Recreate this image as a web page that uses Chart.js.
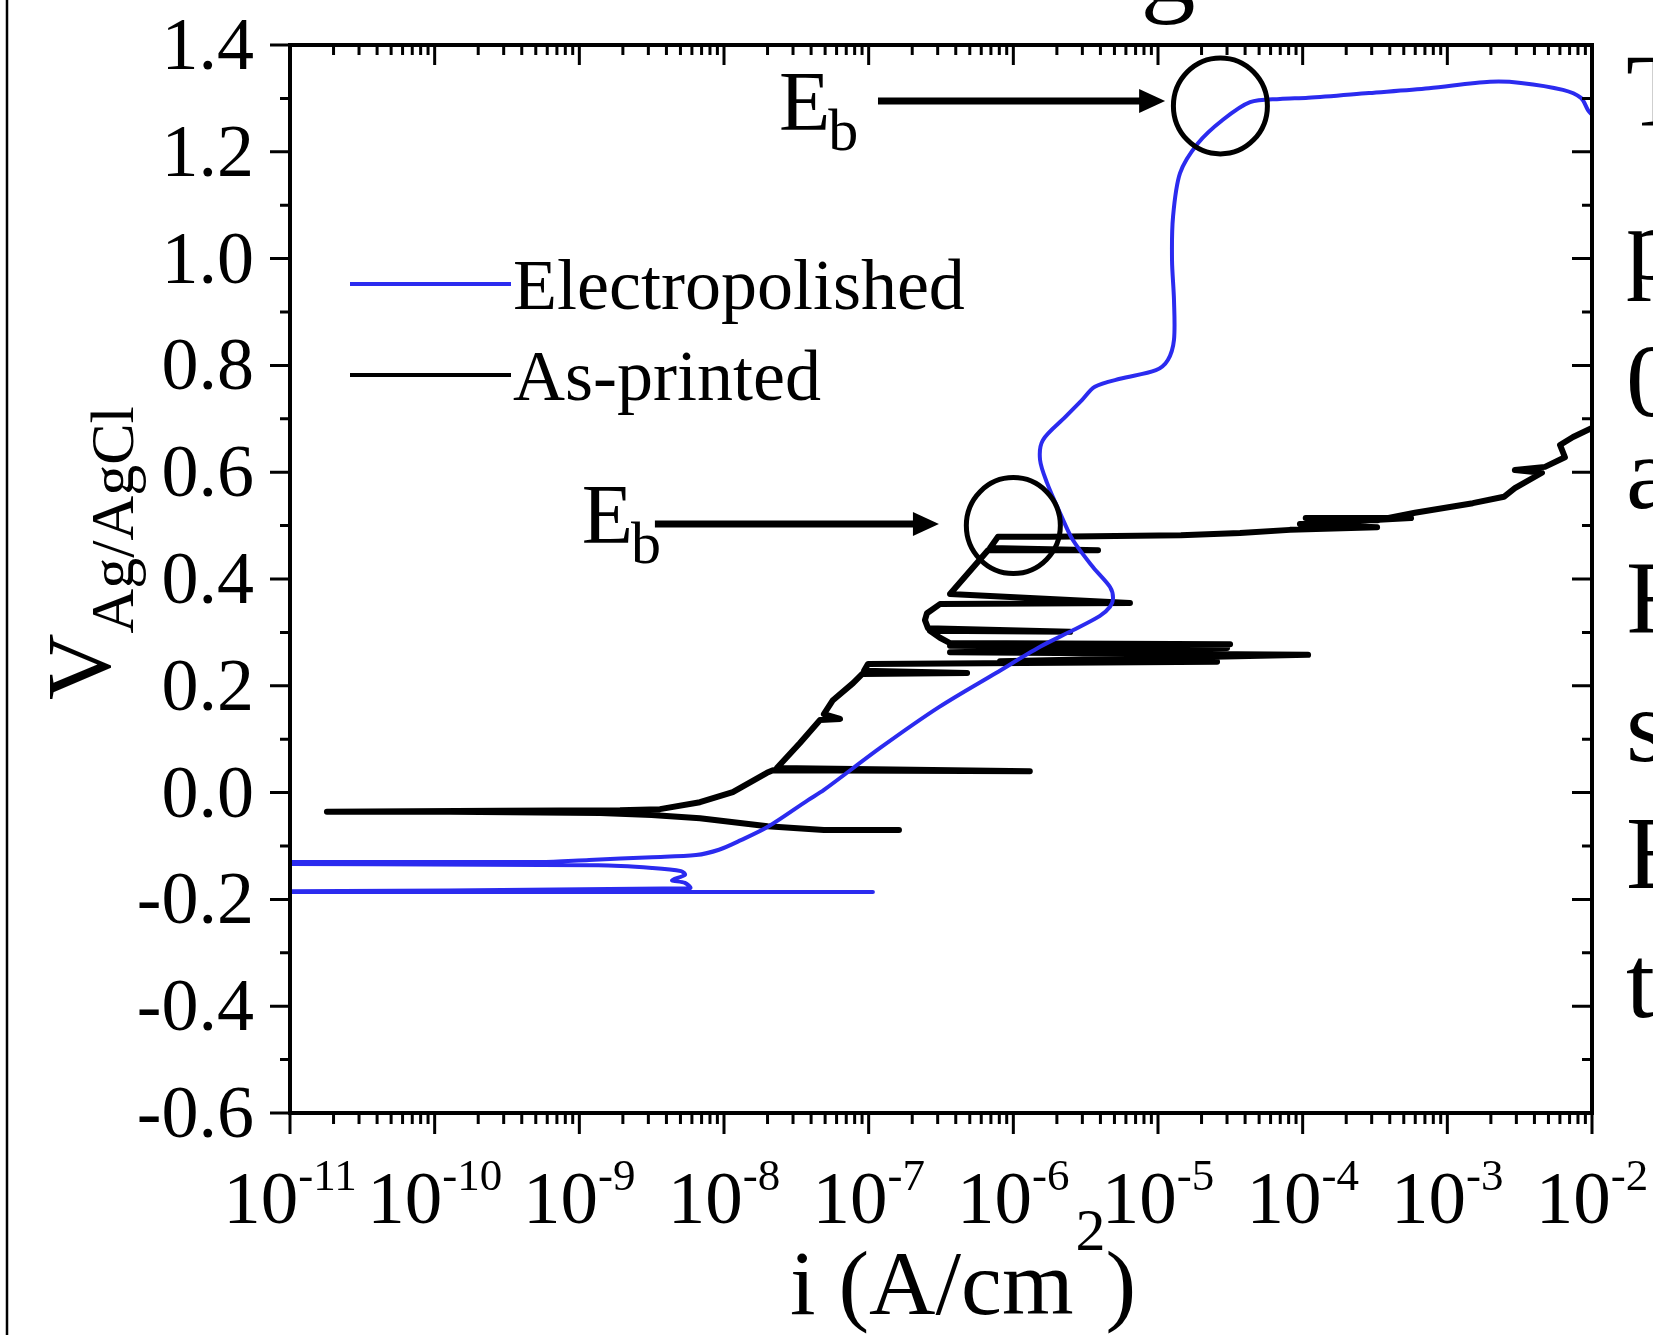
<!DOCTYPE html>
<html>
<head>
<meta charset="utf-8">
<script src="https://cdn.jsdelivr.net/npm/chart.js@4.4.0/dist/chart.umd.min.js"></script>
<style>
  html, body { margin: 0; padding: 0; background: #fff; }
  #wrap { width: 1653px; height: 1335px; }
</style>
</head>
<body>
<div id="wrap"><canvas id="myChart" width="1653" height="1335"></canvas></div>
<script>
/* 분극 곡선 데이터 (i: A/cm2, V vs Ag/AgCl) */
const seriesNames = ['Electropolished', 'As-printed'];

// Electropolished
const epCurrent = [
    1.07e-7, 1e-12, 5.82e-9, 5.37e-9, 4.37e-9, 5.37e-9, 5.05e-9, 3.18e-9, 1.35e-9, 1e-12,
    1e-12, 5.35e-10, 1.17e-9, 3.18e-9, 6.40e-9, 9.23e-9, 1.31e-8, 2.01e-8, 3.81e-8, 4.91e-8,
    1.22e-7, 3.06e-7, 7.59e-7, 1.53e-6, 2.58e-6, 3.97e-6, 4.66e-6, 4.89e-6, 4.66e-6, 3.56e-6,
    2.58e-6, 2.10e-6, 1.71e-6, 1.53e-6, 1.60e-6, 2.28e-6, 2.98e-6, 3.66e-6, 5.46e-6, 9.68e-6,
    1.17e-5, 1.29e-5, 1.29e-5, 1.25e-5, 1.27e-5, 1.42e-5, 1.89e-5, 2.81e-5, 4.33e-5, 6.97e-5,
    1.09e-4, 2.87e-4, 7.46e-4, 1.97e-3, 3.23e-3, 6.30e-3, 8.39e-3, 9.38e-3, 1.0e-2
];
const epPotential = [
    -0.186, -0.186, -0.179, -0.169, -0.164, -0.154, -0.147, -0.141, -0.136, -0.133,
    -0.130, -0.130, -0.126, -0.121, -0.117, -0.107, -0.089, -0.064, -0.014, 0.005,
    0.085, 0.160, 0.224, 0.273, 0.304, 0.331, 0.348, 0.364, 0.385, 0.422,
    0.473, 0.524, 0.580, 0.623, 0.660, 0.703, 0.735, 0.760, 0.775, 0.791,
    0.810, 0.848, 0.922, 0.997, 1.078, 1.160, 1.216, 1.260, 1.293, 1.299,
    1.301, 1.310, 1.319, 1.331, 1.329, 1.316, 1.301, 1.278, 1.269
];

// As-printed
const apCurrent = [
    1.62e-7, 4.90e-8, 2.00e-8, 6.82e-9, 3.16e-9, 1.39e-9, 1.28e-10, 1.80e-11, 2.83e-10, 1.91e-9,
    3.61e-9, 6.82e-9, 1.15e-8, 1.98e-8, 2.18e-8, 1.30e-6, 2.32e-8, 3.35e-8, 4.61e-8, 6.34e-8,
    4.90e-8, 5.66e-8, 7.80e-8, 9.00e-8, 4.79e-7, 9.29e-8, 9.89e-8, 2.56e-5, 8.09e-7, 1.09e-4,
    3.65e-7, 3.00e-5, 3.65e-7, 3.15e-5, 3.65e-7, 3.11e-7, 2.65e-7, 2.47e-6, 2.57e-7, 2.45e-7,
    2.53e-7, 3.11e-7, 6.40e-6, 3.65e-7, 6.68e-7, 3.85e-6, 6.90e-7, 7.83e-7, 1.79e-6, 1.44e-5,
    3.69e-5, 8.17e-5, 3.27e-4, 9.57e-5, 5.61e-4, 1.05e-4, 3.27e-4, 5.97e-4, 1.50e-3, 2.46e-3,
    2.93e-3, 4.51e-3, 2.93e-3, 4.73e-3, 6.50e-3, 6.01e-3, 7.40e-3, 1.0e-2
];
const apPotential = [
    -0.070, -0.070, -0.063, -0.048, -0.042, -0.038, -0.036, -0.036, -0.034, -0.033,
    -0.031, -0.018, 0.001, 0.037, 0.042, 0.040, 0.046, 0.093, 0.136, 0.138,
    0.147, 0.173, 0.205, 0.222, 0.224, 0.228, 0.241, 0.245, 0.246, 0.258,
    0.263, 0.271, 0.275, 0.278, 0.280, 0.290, 0.303, 0.301, 0.308, 0.323,
    0.336, 0.353, 0.355, 0.372, 0.454, 0.454, 0.458, 0.479, 0.479, 0.482,
    0.486, 0.492, 0.497, 0.503, 0.514, 0.514, 0.510, 0.524, 0.542, 0.554,
    0.570, 0.599, 0.604, 0.610, 0.628, 0.651, 0.666, 0.683
];

// 축 눈금
const yTicks = [-0.6, -0.4, -0.2, 0.0, 0.2, 0.4, 0.6, 0.8, 1.0, 1.2, 1.4];
const xTickExp = [-11, -10, -9, -8, -7, -6, -5, -4, -3, -2];

// E_b 표시 (원 위치, 화살표 시작/끝, 라벨 위치)
const ebCircle = [[1.0e-6, 0.50], [2.7e-5, 1.286]];
const ebArrow = [[3.33e-9, 3.06e-7, 0.503], [1.16e-7, 1.12e-5, 1.295]];
const ebText = [[1.04e-9, 0.467], [2.40e-8, 1.241]];

const blue = '#2b2bef';
const serif = '"Liberation Serif", "Times New Roman", serif';

function toPoints(xs, ys) {
    let pts = [];
    for (let i = 0; i < xs.length; i++) {
        pts.push({ x: xs[i], y: ys[i] });
    }
    return pts;
}

function font(ctx, size) {
    ctx.font = size + 'px ' + serif;
}

const framePlugin = {
    id: 'frame',
    afterDatasetsDraw(chart) {
        const ctx = chart.ctx;
        const a = chart.chartArea;
        const xs = chart.scales.x;
        const ys = chart.scales.y;
        ctx.save();
        ctx.strokeStyle = '#000';
        ctx.fillStyle = '#000';

        // 눈금
        ctx.lineWidth = 3;
        ctx.beginPath();
        for (let k = 0; k < xTickExp.length; k++) {
            const e = xTickExp[k];
            const px = xs.getPixelForValue(Math.pow(10, e));
            ctx.moveTo(px, a.bottom); ctx.lineTo(px, a.bottom + 21);
            ctx.moveTo(px, a.top); ctx.lineTo(px, a.top + 20);
            if (k < xTickExp.length - 1) {
                for (let m = 2; m <= 9; m++) {
                    const pm = xs.getPixelForValue(m * Math.pow(10, e));
                    ctx.moveTo(pm, a.bottom); ctx.lineTo(pm, a.bottom + 11);
                    ctx.moveTo(pm, a.top); ctx.lineTo(pm, a.top + 10);
                }
            }
        }
        for (let k = 0; k < yTicks.length; k++) {
            const py = ys.getPixelForValue(yTicks[k]);
            ctx.moveTo(a.left, py); ctx.lineTo(a.left - 20, py);
            ctx.moveTo(a.right, py); ctx.lineTo(a.right - 20, py);
            if (k < yTicks.length - 1) {
                const pm = ys.getPixelForValue((yTicks[k] + yTicks[k + 1]) / 2);
                ctx.moveTo(a.left, pm); ctx.lineTo(a.left - 10, pm);
                ctx.moveTo(a.right, pm); ctx.lineTo(a.right - 10, pm);
            }
        }
        ctx.stroke();

        ctx.lineWidth = 4;
        ctx.strokeRect(a.left, a.top, a.right - a.left, a.bottom - a.top);

        // y 눈금 라벨
        font(ctx, 74);
        ctx.textAlign = 'right';
        ctx.textBaseline = 'alphabetic';
        yTicks.forEach(function (v) {
            ctx.fillText(v.toFixed(1), a.left - 36, ys.getPixelForValue(v) + 24);
        });

        // x 눈금 라벨 10^n
        ctx.textAlign = 'left';
        xTickExp.forEach(function (e) {
            const px = xs.getPixelForValue(Math.pow(10, e));
            font(ctx, 75);
            const w1 = ctx.measureText('10').width;
            font(ctx, 45);
            const w2 = ctx.measureText(String(e)).width;
            const x0 = px - (w1 + w2) / 2;
            font(ctx, 75);
            ctx.fillText('10', x0, a.bottom + 110);
            font(ctx, 45);
            ctx.fillText(String(e), x0 + w1, a.bottom + 77);
        });

        // x 축 제목
        font(ctx, 92);
        const t1 = 'i (A/cm';
        const w1 = ctx.measureText(t1).width;
        const w3 = ctx.measureText(')').width;
        font(ctx, 60);
        const w2 = ctx.measureText('2').width;
        let tx = 962 - (w1 + w2 + w3) / 2;
        font(ctx, 92);
        ctx.fillText(t1, tx, 1314);
        font(ctx, 60);
        ctx.fillText('2', tx + w1 + 2, 1250);
        font(ctx, 92);
        ctx.fillText(')', tx + w1 + w2 + 2, 1314);

        // y 축 제목
        ctx.save();
        ctx.translate(110, 700);
        ctx.rotate(-Math.PI / 2);
        font(ctx, 92);
        ctx.fillText('V', 0, 0);
        const wv = ctx.measureText('V').width;
        font(ctx, 62);
        ctx.fillText('Ag/AgCl', wv, 23);
        ctx.restore();

        // 범례
        const colors = [blue, '#000'];
        const legendY = [284, 375];
        ctx.lineWidth = 4;
        for (let i = 0; i < seriesNames.length; i++) {
            ctx.strokeStyle = colors[i];
            ctx.beginPath();
            ctx.moveTo(350, legendY[i]);
            ctx.lineTo(511, legendY[i]);
            ctx.stroke();
            font(ctx, 72);
            ctx.fillStyle = '#000';
            ctx.fillText(seriesNames[i], 513, legendY[i] + 25);
        }

        // E_b 원, 화살표, 라벨
        ctx.strokeStyle = '#000';
        ctx.fillStyle = '#000';
        ebCircle.forEach(function (c) {
            ctx.lineWidth = 5;
            ctx.beginPath();
            ctx.ellipse(xs.getPixelForValue(c[0]), ys.getPixelForValue(c[1]), 47, 48, 0, 0, Math.PI * 2);
            ctx.stroke();
        });
        ebArrow.forEach(function (r) {
            const x0 = xs.getPixelForValue(r[0]);
            const x1 = xs.getPixelForValue(r[1]);
            const y = ys.getPixelForValue(r[2]);
            ctx.lineWidth = 7;
            ctx.beginPath();
            ctx.moveTo(x0, y);
            ctx.lineTo(x1 - 20, y);
            ctx.stroke();
            ctx.beginPath();
            ctx.moveTo(x1, y);
            ctx.lineTo(x1 - 26, y - 12);
            ctx.lineTo(x1 - 26, y + 12);
            ctx.closePath();
            ctx.fill();
        });
        ebText.forEach(function (t) {
            const x = xs.getPixelForValue(t[0]);
            const y = ys.getPixelForValue(t[1]);
            font(ctx, 84);
            ctx.fillText('E', x, y);
            const we = ctx.measureText('E').width;
            font(ctx, 60);
            ctx.fillText('b', x + we - 2, y + 20);
        });

        // 잘린 주변 글자
        font(ctx, 104);
        const sideText = ['T', 'p', '0', 'a', 'F', 's', 'E', 't'];
        const sideY = [126, 279, 416, 508, 632, 761, 888, 1017];
        for (let i = 0; i < sideText.length; i++) {
            ctx.fillText(sideText[i], 1626, sideY[i]);
        }
        font(ctx, 110);
        ctx.textAlign = 'center';
        ctx.fillText('g', 1168, 2);

        ctx.lineWidth = 2.5;
        ctx.beginPath();
        ctx.moveTo(7, 0);
        ctx.lineTo(7, 1335);
        ctx.stroke();

        ctx.restore();
    }
};

let ctx = document.getElementById('myChart').getContext('2d');

let myChart = new Chart(ctx, {
    type: 'scatter',
    data: {
        datasets: [{
            label: seriesNames[0],
            data: toPoints(epCurrent, epPotential),
            showLine: true,
            borderColor: blue,
            borderWidth: 4,
            tension: 0.3,
            pointRadius: 0,
            borderJoinStyle: 'round',
            borderCapStyle: 'round',
            order: 0
        }, {
            label: seriesNames[1],
            data: toPoints(apCurrent, apPotential),
            showLine: true,
            borderColor: '#000',
            borderWidth: 6,
            pointRadius: 0,
            borderJoinStyle: 'round',
            borderCapStyle: 'round',
            order: 1
        }]
    },
    options: {
        responsive: false,
        devicePixelRatio: 1,
        animation: false,
        layout: {
            padding: { left: 290, top: 45, right: 61, bottom: 222 }
        },
        scales: {
            x: { type: 'logarithmic', min: 1e-11, max: 1e-2, display: false },
            y: { type: 'linear', min: -0.6, max: 1.4, display: false }
        },
        plugins: {
            legend: { display: false },
            tooltip: { enabled: false }
        }
    },
    plugins: [framePlugin]
});
</script>
</body>
</html>
